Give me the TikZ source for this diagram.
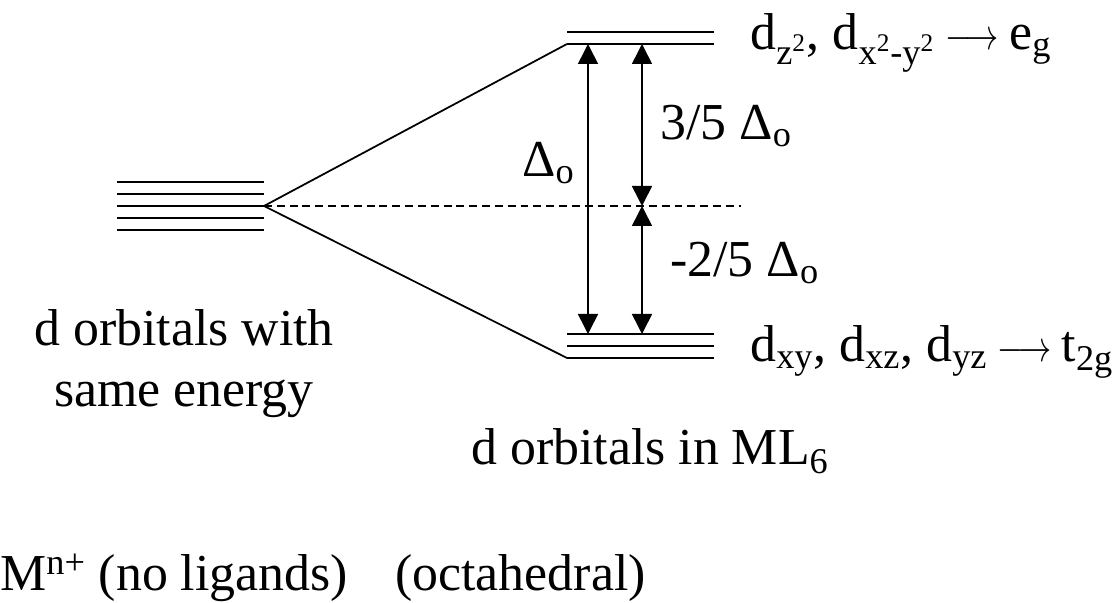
\documentclass[tikz,border=0pt]{standalone}
\usepackage{fontspec}
\setmainfont{Liberation Serif}
\usetikzlibrary{arrows.meta}
\newcommand{\goesto}{\hspace{0.2em}\scalebox{0.76}[1]{$\longrightarrow$}\hspace{0.2em}}

\begin{document}
\begin{tikzpicture}[
    lvl/.style={line width=1pt},
    arr/.style={{Triangle[length=0.4cm,width=0.4cm]}-{Triangle[length=0.4cm,width=0.4cm]}, line width=0.9pt},
    lbl/.style={font=\fontsize{29.5}{35.2}\selectfont, inner sep=0pt}
  ]
  \useasboundingbox (0,0) rectangle (22.32,12.04);

  % free ion, five equal levels
  \foreach \y in {8.40,8.16,7.92,7.68,7.44}
    \draw[lvl] (2.34,\y) -- (5.28,\y);
  % e_g pair
  \foreach \y in {11.40,11.16}
    \draw[lvl] (11.34,\y) -- (14.28,\y);
  % t_2g triple
  \foreach \y in {5.36,5.12,4.88}
    \draw[lvl] (11.34,\y) -- (14.28,\y);

  \coordinate (free) at (5.28,7.92);
  \coordinate (eg) at (11.34,11.16);
  \coordinate (t2g) at (11.34,4.88);
  \coordinate (bary) at (14.82,7.92);

  \draw[lvl] (eg) -- (free) -- (t2g);
  \draw[line width=0.7pt, dash pattern=on 4.5pt off 2.8pt] (free) -- (bary);

  % splitting arrows
  \coordinate (big-top) at (11.76,11.16);
  \coordinate (big-bot) at (11.76,5.36);
  \coordinate (sm-top) at (12.84,11.16);
  \coordinate (sm-mid) at (12.84,7.92);
  \coordinate (sm-bot) at (12.84,5.36);

  \draw[arr] (big-bot) -- (big-top);
  \draw[arr] (sm-mid) -- (sm-top);
  \draw[arr] (sm-bot) -- (sm-mid);

  \node[lbl, anchor=base west] (delta) at (10.44,8.50) {Δ\textsubscript{o}};
  \node[lbl, anchor=base west] (up-lab) at (13.20,9.24) {3/5 Δ\textsubscript{o}};
  \node[lbl, anchor=base west] (down-lab) at (13.40,6.50) {-2/5 Δ\textsubscript{o}};

  \node[lbl, anchor=base west] (eg-lab) at (15.00,11.04)
    {d\textsubscript{z\textsuperscript{2}}, d\textsubscript{x\textsuperscript{2}-y\textsuperscript{2}}\goesto e\textsubscript{g}};
  \node[lbl, anchor=base west] (t2g-lab) at (15.00,4.80)
    {d\textsubscript{xy}, d\textsubscript{xz}, d\textsubscript{yz}\goesto t\textsubscript{2g}};

  \node[lbl, align=center, anchor=base] (free-lab) at (3.68,3.90) {d orbitals with\\same energy};
  \node[lbl, anchor=base] (oct-lab) at (13.00,2.74) {d orbitals in ML\textsubscript{6}};

  \node[lbl, anchor=base west] (ion) at (0,0.24) {M\textsuperscript{n+} (no ligands)};
  \node[lbl, anchor=base west] (octa) at (7.90,0.24) {(octahedral)};
\end{tikzpicture}
\end{document}
